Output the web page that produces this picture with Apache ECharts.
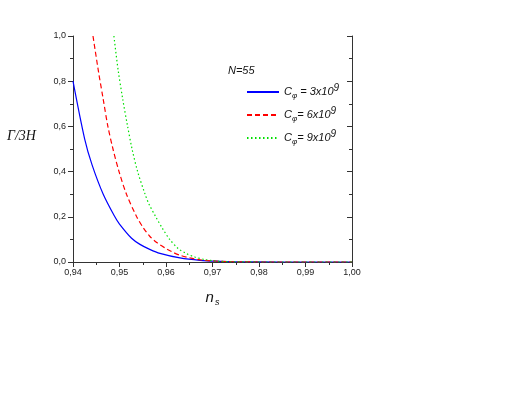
<!DOCTYPE html>
<html>
<head>
<meta charset="utf-8">
<script src="https://cdn.jsdelivr.net/npm/echarts@6/dist/echarts.min.js"></script>
<style>
  html, body { margin: 0; padding: 0; background: #fff; }
  #chart { width: 512px; height: 393px; }
</style>
</head>
<body>
<div id="chart"></div>
<script>
// values (n_s, Γ/3H)
var blueNs = [0.940, 0.9425, 0.9441, 0.9465, 0.949, 0.950, 0.9526, 0.9544, 0.9565, 0.9587, 0.963, 0.9673, 0.9716, 0.975, 0.980, 0.990, 1.000]
var blueVal = [0.80, 0.545, 0.43, 0.30, 0.20, 0.168, 0.105, 0.078, 0.056, 0.038, 0.018, 0.0075, 0.003, 0.001, 0.0002, 0, 0]

var redNs = [0.9443, 0.9455, 0.9465, 0.9475, 0.9486, 0.9499, 0.9515, 0.9537, 0.9551, 0.9565, 0.958, 0.9598, 0.9612, 0.963, 0.9652, 0.9673, 0.9698, 0.973, 0.976, 0.980, 0.990, 1.000]
var redVal = [1.0, 0.84, 0.72, 0.60, 0.50, 0.40, 0.30, 0.20, 0.152, 0.114, 0.086, 0.062, 0.046, 0.030, 0.018, 0.010, 0.005, 0.002, 0.0006, 0.0001, 0, 0]

var greenNs = [0.9488, 0.9497, 0.9507, 0.9517, 0.9527, 0.9539, 0.9555, 0.9563, 0.9578, 0.9592, 0.9608, 0.9626, 0.9644, 0.9662, 0.9683, 0.9709, 0.974, 0.978, 0.990, 1.000]
var greenVal = [1.0, 0.85, 0.72, 0.605, 0.50, 0.40, 0.30, 0.258, 0.20, 0.15, 0.10, 0.06, 0.037, 0.022, 0.011, 0.004, 0.001, 0.0002, 0, 0]

var seriesNames = ['3x10', '6x10', '9x10']

function pairs(xs, ys) {
  var out = []
  for (var i = 0; i < xs.length; i++) {
    out.push([xs[i], ys[i]])
  }
  return out
}

var chart = echarts.init(document.getElementById('chart'))

var axisLine = { show: true, lineStyle: { color: '#333', width: 1 } }
var tickFont = { fontFamily: 'Liberation Sans', fontSize: 9, color: '#222' }

var legendRich = {
  c: { fontFamily: 'Liberation Sans', fontStyle: 'italic', fontSize: 11, color: '#111' },
  sub: { fontFamily: 'Liberation Sans', fontStyle: 'italic', fontSize: 8, color: '#111', padding: [7, 0, 0, 0] },
  sup: { fontFamily: 'Liberation Sans', fontStyle: 'italic', fontSize: 10, color: '#111', padding: [0, 0, 8, 0] }
}

var option = {
  backgroundColor: '#fff',
  animation: false,
  grid: { left: 73, right: 160, top: 36, bottom: 131, containLabel: false },
  legend: {
    orient: 'vertical',
    left: 246,
    top: 83,
    padding: 0,
    itemWidth: 32,
    itemHeight: 10,
    itemGap: 5,
    data: seriesNames,
    itemStyle: { color: 'rgba(0,0,0,0)', borderWidth: 0, opacity: 0 },
    formatter: function (name) {
      var eq = name === '3x10' ? ' = ' : '= '
      return '{c|C}{sub|\u03c6}{c|' + eq + name + '}{sup|9}'
    },
    textStyle: { rich: legendRich, lineHeight: 18 }
  },
  graphic: [
    { type: 'text', left: 228, top: 65, style: { text: 'N=55', fontFamily: 'Liberation Sans', fontStyle: 'italic', fontSize: 11, fill: '#111' } },
    { type: 'text', left: 7, top: 129, style: { text: '\u0393/3H', fontFamily: 'Liberation Serif', fontStyle: 'italic', fontSize: 14, fill: '#111' } }
  ],
  xAxis: [
    {
      type: 'value',
      min: 0.94,
      max: 1.0,
      interval: 0.01,
      position: 'bottom',
      axisLine: axisLine,
      axisTick: { show: true, length: 5, lineStyle: { color: '#333' } },
      minorTick: { show: true, splitNumber: 2, length: 3, lineStyle: { color: '#333' } },
      splitLine: { show: false },
      axisLabel: Object.assign({ margin: 6, formatter: function (v) { return v.toFixed(2).replace('.', ',') } }, tickFont),
      name: '{n|n}{s|s}',
      nameLocation: 'middle',
      nameGap: 26,
      nameTextStyle: {
        rich: {
          n: { fontFamily: 'Liberation Sans', fontStyle: 'italic', fontSize: 15, color: '#111' },
          s: { fontFamily: 'Liberation Sans', fontStyle: 'italic', fontSize: 9, color: '#111', padding: [10, 0, 0, 1] }
        }
      }
    },
    {
      type: 'value',
      min: 0.94,
      max: 1.0,
      interval: 0.01,
      position: 'top',
      axisLine: axisLine,
      axisTick: { show: true, inside: true, length: 5, lineStyle: { color: '#333' } },
      minorTick: { show: true, splitNumber: 2, length: 3, lineStyle: { color: '#333' } },
      splitLine: { show: false },
      axisLabel: { show: false }
    }
  ],
  yAxis: [
    {
      type: 'value',
      min: 0,
      max: 1,
      interval: 0.2,
      position: 'left',
      axisLine: axisLine,
      axisTick: { show: true, length: 5, lineStyle: { color: '#333' } },
      minorTick: { show: true, splitNumber: 2, length: 3, lineStyle: { color: '#333' } },
      splitLine: { show: false },
      axisLabel: Object.assign({ margin: 7, formatter: function (v) { return v.toFixed(1).replace('.', ',') } }, tickFont)
    },
    {
      type: 'value',
      min: 0,
      max: 1,
      interval: 0.2,
      position: 'right',
      axisLine: axisLine,
      axisTick: { show: true, inside: true, length: 5, lineStyle: { color: '#333' } },
      minorTick: { show: true, splitNumber: 2, length: 3, lineStyle: { color: '#333' } },
      splitLine: { show: false },
      axisLabel: { show: false }
    }
  ],
  series: [
    {
      name: seriesNames[0],
      type: 'line',
      smooth: 0.3,
      symbol: 'none',
      clip: true,
      lineStyle: { color: '#0000ff', width: 1.2, type: 'solid' },
      itemStyle: { color: '#0000ff' },
      data: pairs(blueNs, blueVal)
    },
    {
      name: seriesNames[1],
      type: 'line',
      smooth: 0.3,
      symbol: 'none',
      clip: true,
      lineStyle: { color: '#ff0000', width: 1.2, type: [5, 3] },
      itemStyle: { color: '#ff0000' },
      data: pairs(redNs, redVal)
    },
    {
      name: seriesNames[2],
      type: 'line',
      smooth: 0.3,
      symbol: 'none',
      clip: true,
      lineStyle: { color: '#00e000', width: 1.2, type: [1.5, 2.5] },
      itemStyle: { color: '#00e000' },
      data: pairs(greenNs, greenVal)
    }
  ]
}

chart.setOption(option)
</script>
</body>
</html>
